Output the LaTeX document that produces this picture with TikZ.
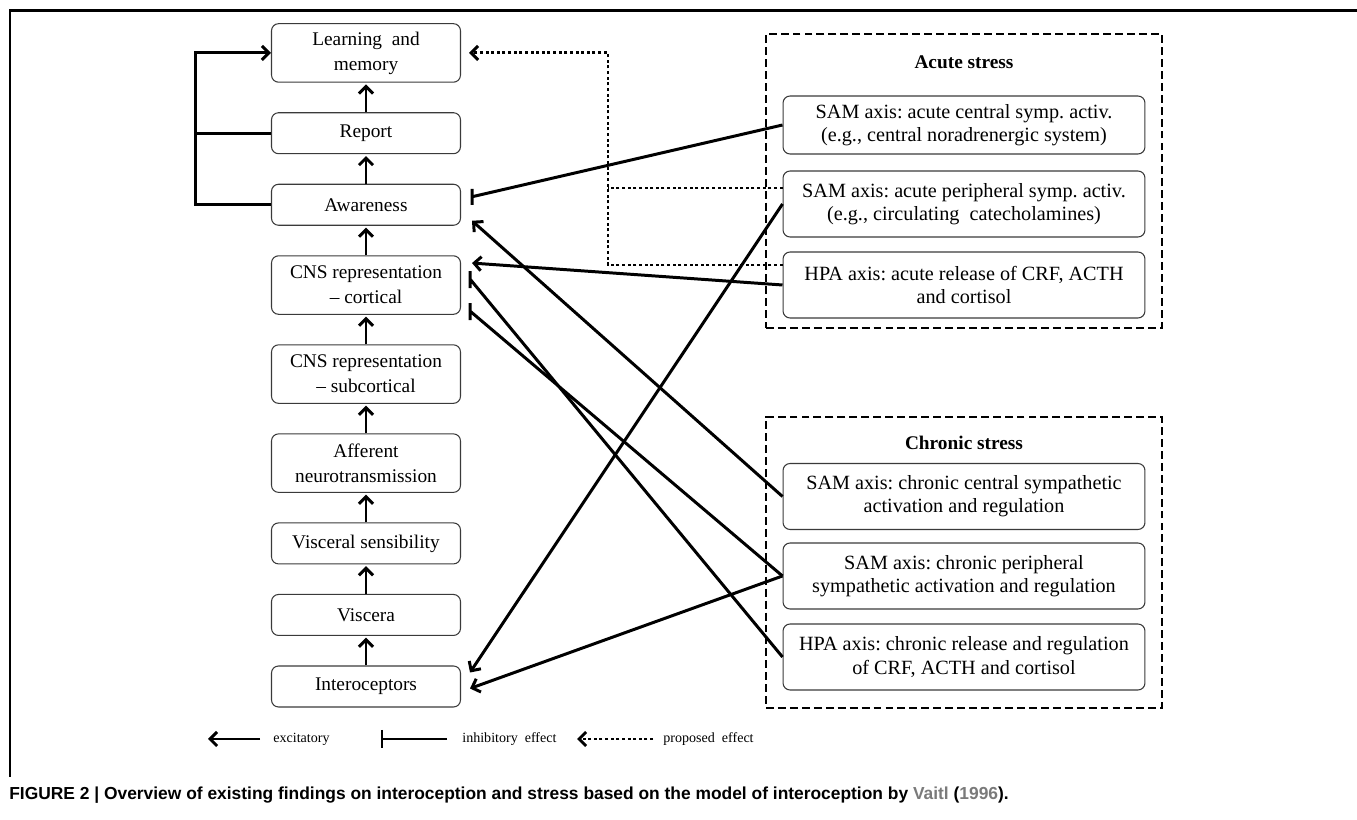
\documentclass[tikz,border=0pt]{standalone}
\usepackage{fontspec}
\setmainfont{Liberation Serif}
\newfontfamily\capsans{Liberation Sans}
\usepackage{xcolor}
\definecolor{cMain}{HTML}{000000}
\definecolor{cLine}{HTML}{3A3A3A}
\definecolor{cCite}{HTML}{7A7A7A}
\usepackage{tikz}
\usetikzlibrary{positioning,arrows.meta,calc}
\tikzset{
  node-stage/.style={draw=cLine,line width=0.6pt,rounded corners=4pt,
    minimum width=3.78cm,minimum height=0.82cm,inner sep=1pt,align=center,
    font=\fontsize{11}{14.2}\selectfont},
  node-stage2/.style={node-stage,minimum height=1.17cm},
  node-axis/.style={draw=cLine,line width=0.6pt,rounded corners=4pt,
    minimum width=7.24cm,minimum height=1.32cm,inner sep=1pt,align=center,
    font=\fontsize{11.5}{13.2}\selectfont},
  node-group/.style={draw=cMain,line width=1.6pt,dash pattern=on 4.5pt off 2.3pt},
  node-title/.style={font=\fontsize{11}{13}\selectfont\bfseries},
  node-legend/.style={font=\fontsize{8}{10}\selectfont,inner sep=0pt},
  % excitatory / inhibitory / proposed
  arrow-exc/.style={-{Straight Barb[length=4pt,width=8pt]},line width=1.7pt,draw=cMain},
  line-inh/.style={line width=1.7pt,draw=cMain},
  arrow-prop/.style={-{Straight Barb[length=4pt,width=8pt]},line width=1.7pt,
    dash pattern=on 1.7pt off 1.5pt,draw=cMain},
}
\begin{document}
\begin{tikzpicture}[x=0.02cm,y=-0.02cm,node distance=5.9mm]
  \useasboundingbox (0,0) rectangle (1357,820);
  \draw[line width=1.7pt] (10,777) -- (10,11) -- (1357,11);

  % left column
  \node[node-stage] (intero) at (366,686.5) {Interoceptors};
  \node[node-stage,above=of intero] (viscera) {Viscera};
  \node[node-stage,above=of viscera] (vissens) {Visceral sensibility};
  \node[node-stage2,above=of vissens] (afferent) {Afferent\\neurotransmission};
  \node[node-stage2,above=of afferent] (subcort) {CNS representation\\-- subcortical};
  \node[node-stage2,above=of subcort] (cortical) {CNS representation\\-- cortical};
  \node[node-stage,above=of cortical] (aware) {Awareness};
  \node[node-stage,above=of aware] (report) {Report};
  \node[node-stage2,above=of report] (learn) {Learning\ \ and\\memory};
  \foreach \a/\b in {intero/viscera,viscera/vissens,vissens/afferent,afferent/subcort,
    subcort/cortical,cortical/aware,aware/report,report/learn}
    \draw[arrow-exc,shorten >=1pt] (\a) -- (\b);
  \draw[arrow-exc] (aware.west) -- ++(-75,0) |- (learn.west);
  \draw[line-inh] (report.west) -- ++(-75,0);

  % acute stress
  \node[node-group,minimum width=7.92cm,minimum height=5.88cm] (acute) at (964,181) {};
  \node[node-title] (acute-title) at (964,62) {Acute stress};
  \node[node-axis,minimum height=1.16cm] (samC) at (964,125)
    {SAM axis:\ acute central\ symp.\ activ.\\(e.g., central noradrenergic system)};
  \node[node-axis] (samP) at (964,204)
    {SAM axis:\ acute peripheral\ symp.\ activ.\\(e.g., circulating\ \ catecholamines)};
  \node[node-axis] (hpaA) at (964,285)
    {HPA axis:\ acute release\ of CRF, ACTH\\and cortisol};

  % chronic stress
  \node[node-group,minimum width=7.92cm,minimum height=5.82cm] (chronic) at (964,562.5) {};
  \node[node-title] (chronic-title) at (964,443) {Chronic stress};
  \node[node-axis] (chrC) at (964,496.5)
    {SAM axis:\ chronic central sympathetic\\activation and regulation};
  \node[node-axis] (chrP) at (964,576)
    {SAM axis:\ chronic peripheral\\sympathetic activation and regulation};
  \node[node-axis] (chrH) at (964,657)
    {HPA axis:\ chronic release\ and regulation\\of CRF, ACTH and cortisol};

  % effects
  \draw[line-inh] (samC.west) -- ($(aware.east)+(11,-8)$) ++(0,-8) -- ++(0,16);
  \coordinate (dot-bend) at (608,0);
  \draw[arrow-prop] ($(hpaA.west)+(0,-20)$) -- (dot-bend |- {$(hpaA.west)+(0,-20)$})
    |- ($(learn.east)+(8,0)$);
  \draw[arrow-prop,-] ($(samP.west)+(0,-16)$) -- (dot-bend |- {$(samP.west)+(0,-16)$});
  \draw[arrow-exc] (hpaA.west) -- ($(cortical.east)+(11,-22)$);
  \draw[arrow-exc] (samP.west) -- ($(intero.east)+(9,-14)$);
  \draw[arrow-exc] (chrC.west) -- ($(aware.east)+(11,16)$);
  \draw[line-inh] (chrH.west) -- ($(cortical.east)+(9,-6)$) ++(0,-8) -- ++(0,17);
  \draw[line-inh] (chrP.west) -- ($(cortical.east)+(9,26)$) ++(0,-8) -- ++(0,17);
  \draw[arrow-exc] (chrP.west) -- ($(intero.east)+(9,2)$);

  % legend
  \node[node-legend,anchor=west] (lg-exc) at (273,739) {excitatory};
  \node[node-legend,anchor=west] (lg-inh) at (462,739) {inhibitory\ \ effect};
  \node[node-legend,anchor=west] (lg-prop) at (663,739) {proposed\ \ effect};
  \draw[arrow-exc] ($(lg-exc.west)+(-13,0)$) -- ++(-52,0);
  \draw[line-inh] ($(lg-inh.west)+(-15,0)$) -- ++(-65,0) ++(0,-9) -- ++(0,18);
  \draw[arrow-prop] ($(lg-prop.west)+(-10,0)$) -- ++(-76,0);

  \node[anchor=west,inner sep=0pt,font=\capsans\bfseries\fontsize{9.9}{11}\selectfont]
    (caption) at (9,795) {FIGURE 2 | Overview of existing findings on interoception and
    stress based on the model of interoception by \textcolor{cCite}{Vaitl}
    (\textcolor{cCite}{1996}).};
\end{tikzpicture}
\end{document}
